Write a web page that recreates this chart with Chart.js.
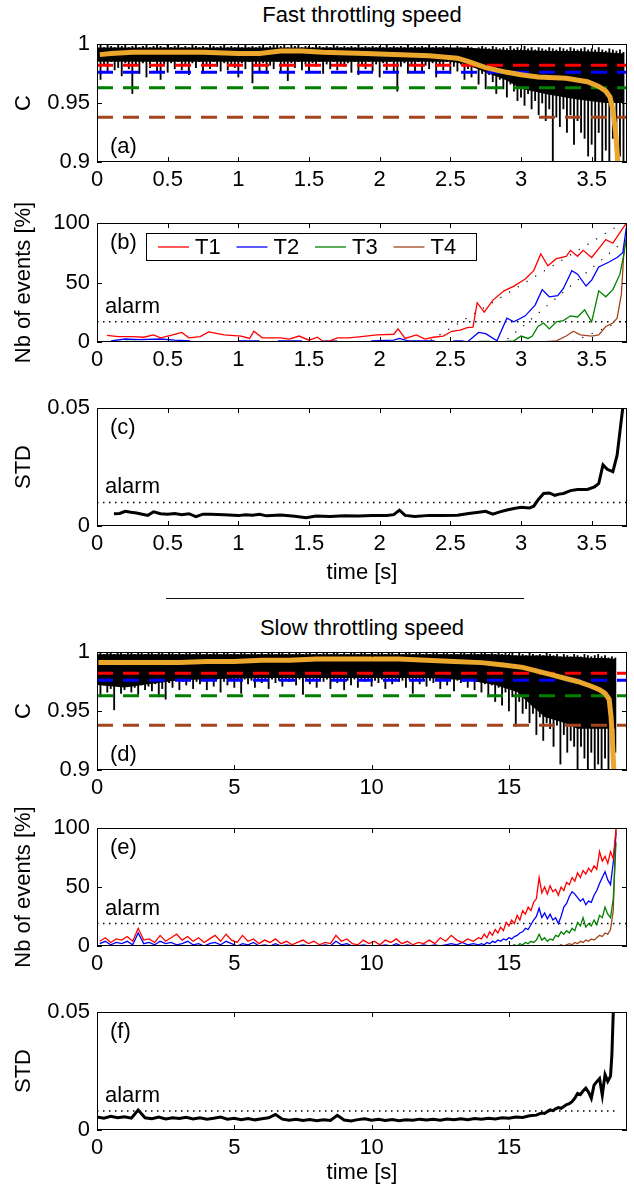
<!DOCTYPE html>
<html>
<head>
<meta charset="utf-8">
<script src="https://cdn.jsdelivr.net/npm/chart.js@4.4.1/dist/chart.umd.min.js"></script>
<style>
html,body{margin:0;padding:0;background:#fff;width:634px;height:1186px;overflow:hidden;position:relative;}
.ttl{position:absolute;left:97px;width:530px;text-align:center;font:22px 'Liberation Sans',Arial,Helvetica,sans-serif;color:#000;line-height:26px;}
.sep{position:absolute;left:166px;width:358px;top:598px;height:1px;background:#111;}
</style>
</head>
<body>
<div class="ttl" style="top:2px">Fast throttling speed</div>
<div class="sep"></div>
<div class="ttl" style="top:615px">Slow throttling speed</div>
<script>
// ---------------- DATA: fast throttling ----------------
const fastXTicks = [0, 0.5, 1, 1.5, 2, 2.5, 3, 3.5];
const fastXMax = 3.75;
const thresholds = [0.982, 0.976, 0.963, 0.938];        // T1..T4 levels on C
const thresholdNames = ['T1', 'T2', 'T3', 'T4'];
const cTicks = [0.9, 0.95, 1];
const pctTicks = [0, 50, 100];
const stdTicks = [0, 0.05];

// (a) raw C signal, min / max per time bin
const fastBinT = [0,0.025,0.05,0.075,0.1,0.125,0.15,0.175,0.2,0.225,0.25,0.275,0.3,0.325,0.35,0.375,0.4,0.425,0.45,0.475,
  0.5,0.525,0.55,0.575,0.6,0.625,0.65,0.675,0.7,0.725,0.75,0.775,0.8,0.825,0.85,0.875,0.9,0.925,0.95,0.975,
  1,1.025,1.05,1.075,1.1,1.125,1.15,1.175,1.2,1.225,1.25,1.275,1.3,1.325,1.35,1.375,1.4,1.425,1.45,1.475,
  1.5,1.525,1.55,1.575,1.6,1.625,1.65,1.675,1.7,1.725,1.75,1.775,1.8,1.825,1.85,1.875,1.9,1.925,1.95,1.975,
  2,2.025,2.05,2.075,2.1,2.125,2.15,2.175,2.2,2.225,2.25,2.275,2.3,2.325,2.35,2.375,2.4,2.425,2.45,2.475,
  2.5,2.525,2.55,2.575,2.6,2.625,2.65,2.675,2.7,2.725,2.75,2.775,2.8,2.825,2.85,2.875,2.9,2.925,2.95,2.975,
  3,3.025,3.05,3.075,3.1,3.125,3.15,3.175,3.2,3.225,3.25,3.275,3.3,3.325,3.35,3.375,3.4,3.425,3.45,3.475,
  3.5,3.525,3.55,3.575,3.6,3.625,3.65,3.675,3.7,3.725];
const fastBinMin = [0.984,0.970,0.983,0.976,0.985,0.978,0.980,0.973,0.984,0.979,
  0.958,0.982,0.975,0.984,0.972,0.980,0.985,0.977,0.970,0.983,
  0.976,0.984,0.979,0.985,0.978,0.982,0.974,0.984,0.980,0.985,
  0.975,0.983,0.979,0.985,0.981,0.977,0.984,0.978,0.983,0.980,
  0.972,0.984,0.979,0.985,0.967,0.981,0.976,0.984,0.975,0.982,
  0.979,0.985,0.977,0.983,0.969,0.984,0.980,0.985,0.978,0.983,
  0.977,0.984,0.981,0.985,0.975,0.983,0.979,0.985,0.978,0.982,
  0.981,0.984,0.976,0.985,0.974,0.982,0.979,0.985,0.977,0.983,
  0.972,0.984,0.978,0.985,0.976,0.960,0.981,0.984,0.975,0.983,
  0.977,0.985,0.976,0.982,0.979,0.984,0.972,0.983,0.978,0.985,
  0.975,0.981,0.977,0.983,0.970,0.979,0.972,0.980,0.966,0.975,
  0.962,0.974,0.968,0.958,0.970,0.962,0.955,0.966,0.960,0.952,
  0.955,0.948,0.958,0.945,0.952,0.940,0.950,0.935,0.945,0.900,
  0.938,0.930,0.945,0.925,0.940,0.915,0.935,0.925,0.920,0.905,
  0.915,0.900,0.925,0.900,0.910,0.900,0.920,0.900,0.905,0.900];
const fastBinMax = [0.998,1.000,0.997,0.999,0.998,0.997,0.999,0.998,1.000,0.997,
  0.998,0.999,0.997,0.998,0.999,0.997,0.998,1.000,0.998,0.997,
  0.999,0.997,0.998,0.999,0.997,0.998,0.997,0.999,0.998,0.997,
  0.998,0.997,0.999,0.998,0.997,0.998,0.999,0.997,0.998,0.997,
  0.998,0.997,0.999,0.997,0.998,0.997,0.998,0.999,0.997,0.998,
  0.999,1.000,0.998,0.999,0.997,1.000,0.998,0.999,0.997,0.998,
  0.998,0.997,0.999,0.998,0.997,0.998,0.997,0.999,0.998,0.997,
  0.998,0.997,0.998,0.997,0.999,0.997,0.998,0.997,0.998,0.997,
  0.998,0.997,0.999,0.997,0.998,0.997,0.998,0.997,0.999,0.997,
  0.998,0.997,0.998,0.997,0.999,0.997,0.998,0.997,0.998,0.997,
  0.997,0.996,0.998,0.997,0.996,0.998,0.997,0.996,0.997,0.998,
  0.997,0.996,0.998,0.997,0.996,0.997,0.996,0.998,0.996,0.997,
  0.996,0.998,0.996,0.997,0.995,0.997,0.996,0.995,0.997,0.996,
  0.995,0.997,0.996,0.995,0.997,0.996,0.995,0.996,0.997,0.995,
  0.996,0.995,0.997,0.995,0.994,0.996,0.995,0.994,0.995,0.993];
// (a) dense core of the raw signal
const fastBandT  = [0,0.5,1,1.5,2,2.5,2.6,2.75,2.9,3.0,3.2,3.4,3.6,3.73];
const fastBandHi = [0.997,0.997,0.997,0.997,0.997,0.997,0.997,0.996,0.995,0.995,0.994,0.994,0.993,0.992];
const fastBandLo = [0.985,0.985,0.985,0.985,0.985,0.985,0.983,0.976,0.969,0.962,0.957,0.953,0.950,0.950];
// (a) smoothed C (orange)
const fastMeanT = [0.02,0.1,0.25,0.5,0.75,1.0,1.15,1.3,1.45,1.6,1.9,2.1,2.35,2.55,2.63,2.75,2.9,3.0,3.12,3.32,3.47,3.55,3.6,3.63,3.65,3.67,3.685];
const fastMeanC = [0.991,0.992,0.993,0.993,0.993,0.992,0.992,0.994,0.994,0.993,0.992,0.991,0.990,0.988,0.985,0.980,0.976,0.974,0.972,0.971,0.968,0.964,0.960,0.955,0.944,0.925,0.900];

// (b) number of events [%]
const fastT1Time = [0.07,0.15,0.25,0.33,0.40,0.45,0.55,0.60,0.65,0.73,0.79,0.90,1.02,1.08,1.11,1.17,1.30,1.36,1.43,1.50,1.56,1.60,1.65,1.70,1.78,1.87,1.98,2.10,2.13,2.18,2.26,2.32,2.38,2.45,2.51,2.57,2.62,2.66,2.69,2.74,2.80,2.88,2.95,3.03,3.09,3.14,3.19,3.25,3.32,3.35,3.40,3.44,3.50,3.56,3.60,3.65,3.74,3.75];
const fastT1Val  = [5.6,4.5,4.5,4,6,3.5,6.5,8,3.5,4.5,8.5,6,5,3,9,3.5,3.5,2.5,5,1.5,4,0.5,1,3.5,3.5,4.5,6,6.5,11,3,6,2.5,4,5,9,10,12,12.5,33,25,35,43,47,53,60,74,64,70,72,77,72,77,71,80,86,83,99,100];
const fastT2Time = [0.10,0.20,0.30,0.45,0.55,0.66,0.67,1.00,1.15,1.16,1.28,1.45,1.46,1.60,1.70,1.71,1.94,2.10,2.14,2.20,2.39,2.40,2.52,2.58,2.62,2.70,2.75,2.83,2.90,2.95,3.03,3.10,3.15,3.20,3.26,3.30,3.36,3.40,3.46,3.50,3.55,3.62,3.68,3.72,3.75];
const fastT2Val  = [1,2.5,2,2.5,1.5,1,null,1,1,null,1,1,null,0.8,0.8,null,1,1.5,3,1,1,null,1,1,0,8,7,1,20,17,22,31,44,38,39,45,60,57,47,52,63,67,71,75,100];
const fastT3Time = [0.20,0.28,0.29,1.62,1.68,1.69,2.13,2.17,2.18,2.70,2.78,2.79,2.85,2.95,3.00,3.05,3.08,3.12,3.16,3.20,3.25,3.30,3.35,3.40,3.45,3.50,3.55,3.60,3.65,3.70,3.73,3.75];
const fastT3Val  = [0.6,0.6,null,0.6,0.6,null,0.6,0.6,null,0.6,0.6,null,0,1,5,3,5,13,16,11,17,18,22,21,27,17,43,38,44,57,75,92];
const fastT4Time = [3.15,3.25,3.32,3.37,3.42,3.50,3.55,3.60,3.65,3.68,3.71,3.73,3.75];
const fastT4Val  = [0,1,5,9,6,5,6,13,16,20,40,80,85];
const fastGuideT = [[2.30,3.76],[2.85,3.76],[3.30,3.76]];
const fastGuideV = [[-3,103],[-3,88],[-3,20]];
const fastAlarmEvents = 17;

// (c) STD
const fastStdT = [0.12,0.16,0.20,0.24,0.28,0.32,0.36,0.40,0.45,0.50,0.55,0.60,0.65,0.70,0.75,0.80,0.90,1.00,1.05,1.10,1.15,1.20,1.30,1.40,1.48,1.55,1.65,1.75,1.85,1.95,2.05,2.10,2.14,2.18,2.25,2.35,2.45,2.55,2.63,2.70,2.75,2.80,2.85,2.90,2.95,3.00,3.06,3.09,3.12,3.16,3.20,3.24,3.27,3.30,3.35,3.40,3.47,3.52,3.55,3.58,3.61,3.65,3.68,3.70,3.72];
const fastStdV = [0.0052,0.0053,0.0062,0.0058,0.0055,0.0050,0.0045,0.0060,0.0052,0.0050,0.0053,0.0048,0.0052,0.0040,0.0050,0.0050,0.0048,0.0044,0.0048,0.0046,0.0050,0.0043,0.0047,0.0041,0.0035,0.0042,0.0040,0.0043,0.0042,0.0045,0.0045,0.0048,0.0067,0.0045,0.0040,0.0045,0.0045,0.0046,0.0053,0.0058,0.0062,0.0050,0.0060,0.0068,0.0074,0.0079,0.0076,0.0084,0.0110,0.0138,0.0140,0.0130,0.0135,0.0138,0.0150,0.0155,0.0155,0.0166,0.0180,0.0259,0.0240,0.0230,0.0300,0.0400,0.0500];
const fastAlarmStd = 0.01;

// ---------------- DATA: slow throttling ----------------
const slowXTicks = [0, 5, 10, 15];
const slowXMax = 19.3;

// (d) raw C signal, min / max per time bin
const slowBinT = [0,0.125,0.25,0.375,0.5,0.625,0.75,0.875,1,1.125,1.25,1.375,1.5,1.625,1.75,1.875,2,2.125,2.25,2.375,
  2.5,2.625,2.75,2.875,3,3.125,3.25,3.375,3.5,3.625,3.75,3.875,4,4.125,4.25,4.375,4.5,4.625,4.75,4.875,
  5,5.125,5.25,5.375,5.5,5.625,5.75,5.875,6,6.125,6.25,6.375,6.5,6.625,6.75,6.875,7,7.125,7.25,7.375,
  7.5,7.625,7.75,7.875,8,8.125,8.25,8.375,8.5,8.625,8.75,8.875,9,9.125,9.25,9.375,9.5,9.625,9.75,9.875,
  10,10.125,10.25,10.375,10.5,10.625,10.75,10.875,11,11.125,11.25,11.375,11.5,11.625,11.75,11.875,12,12.125,12.25,12.375,
  12.5,12.625,12.75,12.875,13,13.125,13.25,13.375,13.5,13.625,13.75,13.875,14,14.125,14.25,14.375,14.5,14.625,14.75,14.875,
  15,15.125,15.25,15.375,15.5,15.625,15.75,15.875,16,16.125,16.25,16.375,16.5,16.625,16.75,16.875,17,17.125,17.25,17.375,
  17.5,17.625,17.75,17.875,18,18.125,18.25,18.375,18.5,18.625,18.75,18.875];
const slowBinMin = [0.970,0.962,0.972,0.966,0.969,0.951,0.971,0.965,0.968,0.973,
  0.966,0.970,0.964,0.972,0.968,0.971,0.967,0.973,0.962,0.969,
  0.960,0.974,0.970,0.976,0.968,0.975,0.972,0.977,0.969,0.975,
  0.973,0.977,0.968,0.976,0.971,0.977,0.966,0.975,0.972,0.977,
  0.970,0.976,0.965,0.977,0.973,0.976,0.970,0.977,0.974,0.976,
  0.969,0.977,0.974,0.976,0.971,0.977,0.975,0.976,0.972,0.977,
  0.964,0.976,0.973,0.977,0.970,0.976,0.975,0.977,0.969,0.976,
  0.974,0.977,0.968,0.976,0.972,0.977,0.970,0.976,0.975,0.977,
  0.971,0.976,0.974,0.977,0.969,0.976,0.973,0.977,0.975,0.976,
  0.970,0.977,0.965,0.976,0.973,0.977,0.971,0.976,0.974,0.977,
  0.969,0.976,0.972,0.977,0.967,0.976,0.974,0.975,0.970,0.976,
  0.968,0.975,0.966,0.973,0.962,0.972,0.958,0.970,0.955,0.966,
  0.950,0.962,0.937,0.958,0.948,0.952,0.940,0.948,0.930,0.945,
  0.925,0.940,0.935,0.920,0.938,0.905,0.930,0.915,0.925,0.920,
  0.900,0.920,0.910,0.900,0.915,0.900,0.905,0.900,0.910,0.900,0.905,0.915];
const slowBinMax = [0.999,1.000,0.998,1.000,0.999,0.998,1.000,0.999,0.998,1.000,
  0.999,0.998,1.000,0.999,0.998,1.000,0.999,0.998,0.999,1.000,
  0.998,0.999,1.000,0.998,0.999,0.998,1.000,0.999,0.998,0.999,
  1.000,0.998,0.999,0.998,1.000,0.999,0.998,0.999,1.000,0.998,
  0.999,0.998,1.000,0.999,0.998,0.999,1.000,0.998,0.999,0.998,
  1.000,0.999,0.998,0.999,1.000,0.998,0.999,0.998,1.000,0.999,
  0.998,0.999,1.000,0.998,0.999,0.998,1.000,0.999,0.998,0.999,
  1.000,0.998,0.999,0.998,1.000,0.999,0.998,0.999,1.000,0.998,
  0.999,0.998,1.000,0.999,0.998,0.999,1.000,0.998,0.999,0.998,
  1.000,0.999,0.998,0.999,1.000,0.998,0.999,0.998,1.000,0.999,
  0.998,0.999,1.000,0.998,0.999,0.998,1.000,0.999,0.998,0.999,
  0.999,0.998,1.000,0.999,0.998,0.999,0.998,0.999,0.998,0.999,
  0.998,0.999,0.997,0.999,0.998,0.997,0.999,0.998,0.997,0.998,
  0.997,0.999,0.998,0.997,0.998,0.996,0.998,0.997,0.996,0.998,
  0.997,0.996,0.998,0.997,0.996,0.997,0.998,0.996,0.997,0.995,0.996,0.995];
const slowBandT  = [0,1,2,3,4,6,8,10,12,13.5,14.5,15.3,15.8,16.3,17,17.5,18,18.5,18.9];
const slowBandHi = [0.998,0.998,0.998,0.998,0.998,0.998,0.998,0.998,0.998,0.998,0.998,0.997,0.997,0.997,0.996,0.996,0.995,0.995,0.994];
const slowBandLo = [0.972,0.970,0.973,0.976,0.977,0.978,0.978,0.978,0.978,0.976,0.972,0.966,0.955,0.945,0.940,0.935,0.935,0.935,0.935];
const slowMeanT = [0.05,1,2,3,4,5,6,7,8,9,10,11,12,13,14,14.8,15.5,16,16.5,17,17.5,18,18.3,18.5,18.65,18.72,18.78,18.82];
const slowMeanC = [0.991,0.991,0.991,0.991,0.992,0.992,0.993,0.993,0.994,0.994,0.994,0.994,0.993,0.992,0.991,0.989,0.987,0.984,0.981,0.978,0.975,0.971,0.968,0.965,0.960,0.945,0.920,0.900];

// (e) number of events [%]
const slowEvT = [0.1,0.3,0.5,0.7,0.9,1.1,1.3,1.5,1.7,1.9,2.1,2.3,2.5,2.7,2.9,3.1,3.3,3.5,3.7,3.9,
  4.1,4.3,4.5,4.7,4.9,5.1,5.3,5.5,5.7,5.9,6.1,6.3,6.5,6.7,6.9,7.1,7.3,7.5,7.7,7.9,
  8.1,8.3,8.5,8.7,8.9,9.1,9.3,9.5,9.7,9.9,10.1,10.3,10.5,10.7,10.9,11.1,11.3,11.5,11.7,11.9,
  12.1,12.3,12.5,12.7,12.9,13.1,13.3,13.5,13.7,13.9,
  14,14.1,14.2,14.3,14.4,14.5,14.6,14.7,14.8,14.9,15,15.1,15.2,15.3,15.4,15.5,15.6,15.7,15.8,15.9,
  16,16.1,16.2,16.3,16.4,16.5,16.6,16.7,16.8,16.9,17,17.1,17.2,17.3,17.4,17.5,17.6,17.7,17.8,17.9,
  18,18.1,18.2,18.3,18.4,18.5,18.6,18.7,18.8,18.9];
const slowT1Val = [4,7,3,6,5,8,4,15,5,6,3,9,4,7,10,5,8,4,7,3,
  6,9,4,10,5,3,9,4,6,2,5,3,6,2,4,1,3,5,2,4,
  1,3,2,9,4,6,2,1,5,2,4,1,5,3,6,2,4,1,3,2,
  5,2,7,4,9,5,3,6,4,7,
  6,10,7,12,9,14,11,16,13,20,17,22,19,26,22,30,27,33,30,37,
  40,58,45,50,44,51,46,48,43,50,47,54,52,58,55,62,58,64,61,66,
  63,68,65,80,72,76,70,80,74,99];
const slowT2Val = [2,4,1,3,2,4,1,11,2,3,1,4,2,3,1,2,4,1,2,0,
  2,3,1,4,2,0,2,1,3,0,1,0,2,0,1,0,0,1,0,0,
  0,1,0,4,1,2,0,0,1,0,0,0,1,0,2,0,1,0,0,1,
  0,1,0,1,2,1,3,1,2,1,
  2,1,3,2,4,3,5,4,6,5,7,6,8,9,11,12,15,14,18,22,
  25,32,24,28,23,27,22,24,19,25,33,36,42,46,44,41,38,40,35,38,
  37,43,47,53,58,63,56,52,71,96];
const slowLateT = [0.1,14,14.1,14.2,14.3,14.4,14.5,14.6,14.7,14.8,14.9,15,15.1,15.2,15.3,15.4,15.5,15.6,15.7,15.8,15.9,
  16,16.1,16.2,16.3,16.4,16.5,16.6,16.7,16.8,16.9,17,17.1,17.2,17.3,17.4,17.5,17.6,17.7,17.8,17.9,
  18,18.1,18.2,18.3,18.4,18.5,18.6,18.7,18.8,18.9];
const slowT3Val = [0,0,0,0,0,0,0,0,0,0,0,0,0,1,0,2,1,3,2,4,3,
  5,10,5,7,4,6,5,9,8,12,10,13,11,15,13,20,17,24,16,19,
  17,22,18,26,24,33,27,24,40,88];
const slowT4Val = [0,0,0,0,0,0,0,0,0,0,0,0,0,0,0,0,0,0,0,0,0,
  0,0,0,0,0,0,0,0,0,1,0,1,2,1,3,2,4,3,5,4,
  6,5,7,9,8,11,10,14,30,100];
const slowAlarmEvents = 19;

// (f) STD
const slowStdT = [0,0.25,0.5,0.75,1,1.25,1.5,1.75,2,2.25,2.5,2.75,3,3.25,3.5,3.75,4,4.25,4.5,4.75,
  5,5.25,5.5,5.75,6,6.25,6.5,6.75,7,7.25,7.5,7.75,8,8.25,8.5,8.75,9,9.25,9.5,9.75,
  10,10.25,10.5,10.75,11,11.25,11.5,11.75,12,12.25,12.5,12.75,13,13.25,13.5,13.75,14,14.25,14.5,14.75,
  15,15.25,15.5,15.75,16,16.1,16.2,16.3,16.4,16.5,16.6,16.7,16.8,16.9,17,
  17.1,17.2,17.3,17.4,17.5,17.6,17.7,17.8,17.9,18,18.1,18.2,18.3,18.4,18.5,18.6,18.7,18.75,18.8];
const slowStdV = [0.0055,0.0050,0.0058,0.0052,0.0056,0.0050,0.0085,0.0052,0.0048,0.0055,0.0047,0.0052,0.0049,0.0054,0.0047,0.0052,0.0046,0.0050,0.0055,0.0046,
  0.0050,0.0044,0.0049,0.0043,0.0048,0.0052,0.0066,0.0046,0.0041,0.0045,0.0040,0.0044,0.0039,0.0043,0.0040,0.0062,0.0042,0.0038,0.0044,0.0048,
  0.0041,0.0045,0.0040,0.0044,0.0039,0.0043,0.0041,0.0046,0.0042,0.0045,0.0041,0.0047,0.0043,0.0048,0.0044,0.0049,0.0046,0.0050,0.0047,0.0052,
  0.0050,0.0055,0.0053,0.0060,0.0063,0.0068,0.0072,0.0070,0.0078,0.0085,0.0082,0.0090,0.0095,0.0092,0.0100,
  0.0108,0.0112,0.0120,0.0135,0.0155,0.0150,0.0165,0.0177,0.0160,0.0134,0.0190,0.0205,0.0218,0.0148,0.0235,0.0206,0.0228,0.0320,0.0500];
const slowAlarmStd = 0.008;

// ---------------- STYLE ----------------
const FONT = "'Liberation Sans', Arial, Helvetica, sans-serif";
const TCOL = ['#ff0000', '#0000ff', '#008000', '#a3461c'];
const ORANGE = '#eba62c';

const xy = (ts, vs) => ts.map((t, i) => ({x: t, y: vs[i]}));
const xr = (ts, lo, hi) => ts.map((t, i) => ({x: t, y: [lo[i], hi[i]]}));
const fmt = v => String(parseFloat(Number(v).toFixed(4)));

function thresholdSets(xmax) {
  return thresholds.map((v, i) => ({
    label: 'thr' + thresholdNames[i], data: xy([0, xmax], [v, v]),
    borderColor: TCOL[i], borderWidth: 3, borderDash: [16, 10], order: 3
  }));
}
function alarmSet(v, xmax) {
  return {label: 'alarm', data: xy([0, xmax], [v, v]), borderColor: '#000', borderWidth: 1.5, borderDash: [1.5, 4.5], order: 8};
}

function makePanel(p) {
  const H = p.padTop + p.plotH + p.xH;
  const wrap = document.createElement('div');
  wrap.style.cssText = 'position:absolute;left:0;top:' + (p.plotTop - p.padTop) + 'px;width:634px;height:' + H + 'px;';
  const cv = document.createElement('canvas');
  cv.width = 634; cv.height = H;
  cv.style.width = '634px'; cv.style.height = H + 'px';
  wrap.appendChild(cv);
  document.body.appendChild(wrap);

  const deco = {
    id: 'deco',
    afterDatasetsDraw(chart) {
      const {ctx, chartArea: a, scales: {x, y}} = chart;
      ctx.save();
      ctx.strokeStyle = '#000'; ctx.lineWidth = 1;
      ctx.strokeRect(a.left + 0.5, a.top + 0.5, a.right - a.left - 1, a.bottom - a.top - 1);
      ctx.beginPath();
      const TL = 5;
      x.ticks.forEach(t => {
        const px = Math.round(x.getPixelForValue(t.value)) + 0.5;
        ctx.moveTo(px, a.bottom); ctx.lineTo(px, a.bottom - TL);
        ctx.moveTo(px, a.top); ctx.lineTo(px, a.top + TL);
      });
      y.ticks.forEach(t => {
        const py = Math.round(y.getPixelForValue(t.value)) + 0.5;
        ctx.moveTo(a.left, py); ctx.lineTo(a.left + TL, py);
        ctx.moveTo(a.right, py); ctx.lineTo(a.right - TL, py);
      });
      ctx.stroke();
      ctx.fillStyle = '#000';
      ctx.font = '22px ' + FONT;
      ctx.textBaseline = 'middle'; ctx.textAlign = 'left';
      ctx.fillText(p.letter, a.left + 13, p.letterBottom ? a.bottom - 15 : a.top + 20);
      if (p.alarm != null) ctx.fillText('alarm', a.left + 8, y.getPixelForValue(p.alarm) - 15);
      if (p.legend) {
        const bx = a.left + 49, by = a.top + 10, bw = 330, bh = 27;
        ctx.fillStyle = '#fff';
        ctx.fillRect(bx, by, bw, bh);
        ctx.strokeRect(bx + 0.5, by + 0.5, bw, bh);
        const items = chart.data.datasets.filter(d => thresholdNames.includes(d.label));
        items.forEach((d, i) => {
          const sx = bx + 12 + i * 78.5, cy = by + bh / 2 + 0.5;
          ctx.strokeStyle = d.borderColor; ctx.lineWidth = 1.3;
          ctx.beginPath(); ctx.moveTo(sx, cy); ctx.lineTo(sx + 31, cy); ctx.stroke();
          ctx.fillStyle = '#000';
          ctx.fillText(d.label, sx + 37, cy + 1);
        });
      }
      ctx.restore();
    }
  };

  return new Chart(cv, {
    type: 'line',
    data: {datasets: p.datasets},
    options: {
      responsive: false, animation: false, devicePixelRatio: 1,
      layout: {padding: {left: 0, right: 7, top: p.padTop, bottom: 0}},
      plugins: {legend: {display: false}, tooltip: {enabled: false}, title: {display: false}},
      elements: {point: {radius: 0, hoverRadius: 0}, line: {tension: 0, borderWidth: 1, fill: false}},
      spanGaps: false,
      scales: {
        x: {
          type: 'linear', min: 0, max: p.xMax, offset: false,
          afterBuildTicks: s => { s.ticks = p.xTicks.map(v => ({value: v})); },
          afterFit: s => { s.height = p.xH; },
          grid: {display: false, drawTicks: false, offset: false}, border: {display: false},
          ticks: {padding: 5, color: '#000', font: {family: FONT, size: 22}, maxRotation: 0, autoSkip: false, callback: fmt},
          title: p.xTitle ? {display: true, text: p.xTitle, color: '#000', font: {family: FONT, size: 22}, padding: 0} : {display: false}
        },
        y: {
          type: 'linear', min: p.yMin, max: p.yMax,
          afterBuildTicks: s => { s.ticks = p.yTicks.map(v => ({value: v})); },
          afterFit: s => { s.width = 97; },
          grid: {display: false, drawTicks: false}, border: {display: false},
          ticks: {padding: 7, color: '#000', font: {family: FONT, size: 22}, autoSkip: false, callback: fmt},
          title: {display: true, text: p.yTitle, color: '#000', font: {family: FONT, size: 22}, padding: {top: 11, bottom: 0}}
        }
      }
    },
    plugins: [deco]
  });
}

function cPanel(top, xMax, xTicks, letter, binT, binMin, binMax, bandT, bandHi, bandLo, meanT, meanC) {
  return makePanel({
    plotTop: top, plotH: 118, padTop: 32, xH: 40, xMax, xTicks,
    yMin: 0.9, yMax: 1, yTicks: cTicks, yTitle: 'C', letter, letterBottom: true,
    datasets: [
      {label: 'smoothed C', data: xy(meanT, meanC), borderColor: ORANGE, borderWidth: 5, order: 0},
      ...thresholdSets(xMax),
      {type: 'bar', label: 'C', data: xr(binT, binMin, binMax), backgroundColor: '#000', borderWidth: 0,
       barThickness: 1.2, grouped: false, order: 5},
      {label: 'band hi', data: xy(bandT, bandHi), borderColor: '#000', borderWidth: 0, order: 7},
      {label: 'band lo', data: xy(bandT, bandLo), borderColor: '#000', borderWidth: 0, backgroundColor: '#000', fill: '-1', order: 6}
    ]
  });
}

// ---------------- PANELS ----------------
cPanel(44, fastXMax, fastXTicks, '(a)', fastBinT, fastBinMin, fastBinMax, fastBandT, fastBandHi, fastBandLo, fastMeanT, fastMeanC);

makePanel({
  plotTop: 223, plotH: 119, padTop: 32, xH: 40, xMax: fastXMax, xTicks: fastXTicks,
  yMin: 0, yMax: 100, yTicks: pctTicks, yTitle: 'Nb of events [%]', letter: '(b)', alarm: fastAlarmEvents, legend: true,
  datasets: [
    {label: 'T1', data: xy(fastT1Time, fastT1Val), borderColor: TCOL[0], borderWidth: 1.3, order: 1},
    {label: 'T2', data: xy(fastT2Time, fastT2Val), borderColor: TCOL[1], borderWidth: 1.3, order: 2},
    {label: 'T3', data: xy(fastT3Time, fastT3Val), borderColor: TCOL[2], borderWidth: 1.3, order: 3},
    {label: 'T4', data: xy(fastT4Time, fastT4Val), borderColor: TCOL[3], borderWidth: 1.3, order: 4},
    alarmSet(fastAlarmEvents, fastXMax),
    ...fastGuideT.map((t, i) => ({label: 'guide', data: xy(t, fastGuideV[i]), borderColor: '#000', borderWidth: 1.2, borderDash: [1.2, 9], order: 9}))
  ]
});

makePanel({
  plotTop: 408, plotH: 118, padTop: 32, xH: 60, xMax: fastXMax, xTicks: fastXTicks, xTitle: 'time [s]',
  yMin: 0, yMax: 0.05, yTicks: stdTicks, yTitle: 'STD', letter: '(c)', alarm: fastAlarmStd,
  datasets: [
    {label: 'STD', data: xy(fastStdT, fastStdV), borderColor: '#000', borderWidth: 3, order: 0},
    alarmSet(fastAlarmStd, fastXMax)
  ]
});

cPanel(652, slowXMax, slowXTicks, '(d)', slowBinT, slowBinMin, slowBinMax, slowBandT, slowBandHi, slowBandLo, slowMeanT, slowMeanC);

makePanel({
  plotTop: 828, plotH: 118, padTop: 32, xH: 40, xMax: slowXMax, xTicks: slowXTicks,
  yMin: 0, yMax: 100, yTicks: pctTicks, yTitle: 'Nb of events [%]', letter: '(e)', alarm: slowAlarmEvents,
  datasets: [
    {label: 'T1', data: xy(slowEvT, slowT1Val), borderColor: TCOL[0], borderWidth: 1.3, order: 1},
    {label: 'T2', data: xy(slowEvT, slowT2Val), borderColor: TCOL[1], borderWidth: 1.3, order: 2},
    {label: 'T3', data: xy(slowLateT, slowT3Val), borderColor: TCOL[2], borderWidth: 1.3, order: 3},
    {label: 'T4', data: xy(slowLateT, slowT4Val), borderColor: TCOL[3], borderWidth: 1.3, order: 4},
    alarmSet(slowAlarmEvents, slowXMax)
  ]
});

makePanel({
  plotTop: 1012, plotH: 118, padTop: 32, xH: 56, xMax: slowXMax, xTicks: slowXTicks, xTitle: 'time [s]',
  yMin: 0, yMax: 0.05, yTicks: stdTicks, yTitle: 'STD', letter: '(f)', alarm: slowAlarmStd,
  datasets: [
    {label: 'STD', data: xy(slowStdT, slowStdV), borderColor: '#000', borderWidth: 3, order: 0},
    alarmSet(slowAlarmStd, 19.0)
  ]
});
</script>
</body>
</html>
